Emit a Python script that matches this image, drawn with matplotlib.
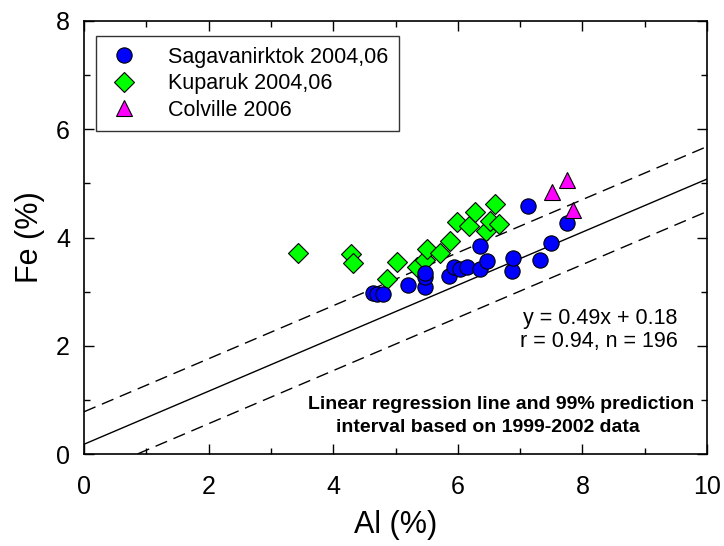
import matplotlib.pyplot as plt
import numpy as np
from matplotlib.ticker import MultipleLocator

plt.rcParams['font.family'] = ['Liberation Sans', 'DejaVu Sans']

# Al / Fe en % pour chaque rivière
al_sag = [4.64, 4.71, 4.80, 5.20, 5.47, 5.47, 5.48, 5.86, 5.94, 6.03,
          6.14, 6.35, 6.35, 6.47, 6.87, 6.89, 7.12, 7.32, 7.50, 7.75]
fe_sag = [2.98, 2.96, 2.95, 3.12, 3.09, 3.27, 3.35, 3.28, 3.46, 3.42,
          3.46, 3.42, 3.85, 3.56, 3.39, 3.62, 4.59, 3.58, 3.90, 4.27]

al_kup = [3.44, 4.28, 4.31, 4.87, 5.02, 5.35, 5.48, 5.51, 5.72, 5.88,
          5.99, 6.18, 6.27, 6.45, 6.52, 6.59, 6.66]
fe_kup = [3.71, 3.70, 3.52, 3.24, 3.55, 3.46, 3.58, 3.79, 3.71, 3.94,
          4.28, 4.22, 4.47, 4.12, 4.31, 4.62, 4.25]

al_col = [7.51, 7.76, 7.85]
fe_col = [4.84, 5.07, 4.51]

# Régression 1999-2002 et intervalle de prédiction à 99 %
slope = 0.49
intercept = 0.18
pi_half = 0.6

fig = plt.figure(figsize=(7.24, 5.46), dpi=100)
ax = fig.add_axes([84 / 724, 1 - 454 / 546, (707 - 84) / 724, (454 - 21) / 546])

x = np.linspace(0, 10, 200)
y = slope * x + intercept
ax.plot(x, y, color='black', lw=1.0, zorder=1)
ax.plot(x, y + pi_half, color='black', lw=1.0, dashes=(9, 5), zorder=1)
ax.plot(x, y - pi_half, color='black', lw=1.0, dashes=(9, 5), zorder=1)

ax.plot(al_kup, fe_kup, ls='none', marker='D', ms=10, mfc='#00ff00', mec='black',
        mew=0.8, label='Kuparuk 2004,06', zorder=3)
ax.plot(al_sag, fe_sag, ls='none', marker='o', ms=11, mfc='#0000ff', mec='black',
        mew=0.8, label='Sagavanirktok 2004,06', zorder=4)
ax.plot(al_col, fe_col, ls='none', marker='^', ms=11, mfc='#ff00ff', mec='black',
        mew=0.8, label='Colville 2006', zorder=5)

ax.set_xlim(0, 10)
ax.set_ylim(0, 8)
ax.xaxis.set_major_locator(MultipleLocator(2))
ax.xaxis.set_minor_locator(MultipleLocator(1))
ax.yaxis.set_major_locator(MultipleLocator(2))
ax.yaxis.set_minor_locator(MultipleLocator(1))
ax.tick_params(which='both', direction='in', top=True, right=True,
               labeltop=False, labelright=False, width=1)
ax.tick_params(which='major', length=7, labelsize=18)
ax.tick_params(which='minor', length=4)
ax.tick_params(axis='x', which='major', pad=15)
ax.tick_params(axis='y', which='major', pad=10)
for s in ax.spines.values():
    s.set_linewidth(1.2)

ax.set_xlabel('Al (%)', fontsize=22, labelpad=8)
ax.set_ylabel('Fe (%)', fontsize=22, labelpad=8)

handles, labels = ax.get_legend_handles_labels()
order = [1, 0, 2]
leg = ax.legend([handles[i] for i in order], [labels[i] for i in order],
                loc='upper left', bbox_to_anchor=(0.02, 0.965), fontsize=15.5,
                frameon=True, fancybox=False, edgecolor='black',
                handletextpad=1.2, borderpad=0.5, labelspacing=0.25,
                handlelength=1.6, borderaxespad=0)
leg.get_frame().set_linewidth(1.0)

ax.text(0.953, 0.286, 'y = 0.49x + 0.18\nr = 0.94, n = 196', transform=ax.transAxes,
        ha='right', va='center', fontsize=15.5, linespacing=1.1)

ax.text(0.67, 0.115, 'Linear regression line and 99% prediction', transform=ax.transAxes,
        ha='center', va='center', fontsize=14, fontweight='bold')
ax.text(0.648, 0.061, 'interval based on 1999-2002 data', transform=ax.transAxes,
        ha='center', va='center', fontsize=14, fontweight='bold')

fig.savefig('out.png', dpi=100)
